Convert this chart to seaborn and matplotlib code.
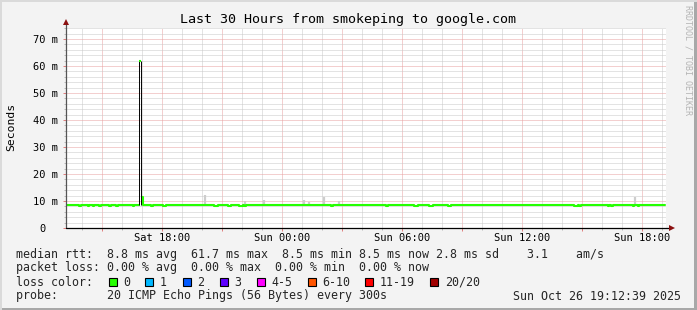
import numpy as np
import pandas as pd
import matplotlib
matplotlib.use("Agg")
import matplotlib.pyplot as plt
import matplotlib.dates as mdates
from matplotlib.patches import Rectangle
from matplotlib.ticker import MultipleLocator, FuncFormatter
import seaborn as sns

# ---------------- data ----------------
title = "Last 30 Hours from smokeping to google.com"
y_label = "Seconds"
start_time = "2025-10-25 13:12:39"
end_time = "2025-10-26 19:12:39"
first_sample_center = "2025-10-25 13:15:09"
n_samples = 360
y_ticks_ms = [0, 10, 20, 30, 40, 50, 60, 70]
y_tick_labels = ["0  ", "10 m", "20 m", "30 m", "40 m", "50 m", "60 m", "70 m"]

# median rtt (ms), one value per 5-minute step, 12 values per hour
median_ms = [
    8.6, 8.6, 8.6, 8.6, 8.6, 8.6, 8.6, 8.6, 8.2, 8.6, 8.6, 8.6,
    8.6, 8.2, 8.6, 8.6, 8.2, 8.6, 8.6, 8.6, 8.2, 8.6, 8.6, 8.6,
    8.6, 8.6, 8.2, 8.6, 8.6, 8.6, 8.2, 8.6, 8.6, 8.6, 8.6, 8.6,
    8.6, 8.6, 8.6, 8.6, 8.2, 8.6, 8.6, 8.6, 61.7, 11.6, 8.5, 8.6,
    8.6, 8.6, 8.6, 8.2, 8.6, 8.6, 8.6, 8.6, 8.6, 8.6, 8.2, 8.2,
    8.6, 8.6, 8.6, 8.6, 8.6, 8.6, 8.6, 8.6, 8.6, 8.6, 8.6, 8.6,
    8.6, 8.6, 8.6, 8.6, 8.6, 8.6, 8.6, 8.6, 8.6, 8.6, 8.6, 8.6,
    8.6, 8.6, 8.6, 8.6, 8.6, 8.2, 8.2, 8.6, 8.6, 8.6, 8.6, 8.6,
    8.6, 8.2, 8.2, 8.6, 8.6, 8.6, 8.6, 8.6, 8.2, 8.2, 8.6, 8.2,
    8.6, 8.6, 8.6, 8.6, 8.6, 8.6, 8.6, 8.6, 8.6, 8.6, 8.6, 8.6,
    8.6, 8.6, 8.6, 8.6, 8.6, 8.6, 8.6, 8.6, 8.6, 8.6, 8.6, 8.6,
    8.6, 8.6, 8.6, 8.6, 8.6, 8.6, 8.6, 8.6, 8.6, 8.6, 8.6, 8.6,
    8.6, 8.6, 8.6, 8.6, 8.6, 8.6, 8.6, 8.6, 8.6, 8.6, 8.6, 8.6,
    8.6, 8.6, 8.6, 8.2, 8.6, 8.6, 8.6, 8.6, 8.6, 8.6, 8.6, 8.6,
    8.6, 8.6, 8.6, 8.6, 8.6, 8.6, 8.6, 8.6, 8.6, 8.6, 8.6, 8.6,
    8.6, 8.6, 8.6, 8.6, 8.6, 8.6, 8.6, 8.6, 8.6, 8.6, 8.6, 8.6,
    8.2, 8.6, 8.6, 8.6, 8.6, 8.6, 8.6, 8.6, 8.6, 8.6, 8.6, 8.6,
    8.6, 8.6, 8.6, 8.6, 8.6, 8.2, 8.2, 8.6, 8.6, 8.6, 8.6, 8.6,
    8.6, 8.6, 8.2, 8.2, 8.6, 8.6, 8.6, 8.6, 8.6, 8.6, 8.6, 8.6,
    8.6, 8.2, 8.2, 8.6, 8.6, 8.6, 8.6, 8.6, 8.6, 8.6, 8.6, 8.6,
    8.6, 8.6, 8.6, 8.6, 8.6, 8.6, 8.6, 8.6, 8.6, 8.6, 8.6, 8.6,
    8.6, 8.6, 8.6, 8.6, 8.6, 8.6, 8.6, 8.6, 8.6, 8.6, 8.6, 8.6,
    8.6, 8.6, 8.6, 8.6, 8.6, 8.6, 8.6, 8.6, 8.6, 8.6, 8.6, 8.6,
    8.6, 8.6, 8.6, 8.6, 8.6, 8.6, 8.6, 8.6, 8.6, 8.6, 8.6, 8.6,
    8.6, 8.6, 8.6, 8.6, 8.6, 8.6, 8.6, 8.6, 8.6, 8.6, 8.6, 8.6,
    8.6, 8.6, 8.6, 8.6, 8.6, 8.2, 8.2, 8.6, 8.2, 8.6, 8.6, 8.6,
    8.6, 8.6, 8.6, 8.6, 8.6, 8.6, 8.6, 8.6, 8.6, 8.6, 8.6, 8.6,
    8.6, 8.2, 8.6, 8.2, 8.6, 8.6, 8.6, 8.6, 8.6, 8.6, 8.6, 8.6,
    8.6, 8.6, 8.6, 8.6, 8.2, 8.6, 8.6, 8.2, 8.6, 8.6, 8.6, 8.6,
    8.6, 8.6, 8.6, 8.6, 8.6, 8.6, 8.6, 8.6, 8.6, 8.6, 8.6, 8.6,
]

# smoke (ping spread) spikes: sample index and top value (ms)
smoke_index = [83, 107, 118, 142, 145, 154, 163, 341]
smoke_top_ms = [12.2, 10.0, 10.3, 10.4, 9.6, 11.5, 9.9, 11.5]

# legend
rtt_line = "median rtt:  8.8 ms avg  61.7 ms max  8.5 ms min 8.5 ms now 2.8 ms sd    3.1    am/s"
loss_line = "packet loss: 0.00 % avg  0.00 % max  0.00 % min  0.00 % now"
loss_head = "loss color:"
loss_labels = ["0", "1", "2", "3", "4-5", "6-10", "11-19", "20/20"]
loss_colors = ["#26ff00", "#00b8ff", "#0059ff", "#5e00ff", "#ff00ff", "#ff5500", "#ff0000", "#a10000"]
loss_square_x = [109, 145.3, 182.7, 220, 257, 307.6, 365.3, 430.2]
probe_line = "probe:       20 ICMP Echo Pings (56 Bytes) every 300s"
stamp_text = "Sun Oct 26 19:12:39 2025"
watermark = "RRDTOOL / TOBI OETIKER"

# ---------------- figure ----------------
W, H = 697, 310
sns.set_theme(style="white")
plt.rcParams["font.family"] = ["DejaVu Sans Mono", "DejaVu Sans"]
BG = "#f3f3f3"
fig = plt.figure(figsize=(W / 100, H / 100), dpi=100, facecolor=BG)

def fx(x):
    return x / W

def fy(y):
    return 1 - y / H

L, R, T, B = 66, 666, 28, 228
ax = fig.add_axes([fx(L), fy(B), (R - L) / W, (B - T) / H])
ax.set_facecolor("white")

times = pd.date_range(first_sample_center, periods=n_samples, freq="300s")
df = pd.DataFrame({"time": times, "median_ms": median_ms})
t0, t1 = pd.Timestamp(start_time), pd.Timestamp(end_time)

# smoke
st = df["time"].iloc[smoke_index].values
sb = df["median_ms"].iloc[smoke_index].values
ax.vlines(st, sb, smoke_top_ms, color="#cdcdcd", linewidth=1.6, zorder=2)

# median line: drawn in two parts around the tall spike
GREEN = "#26ff00"
k = int(np.argmax(median_ms))
half = pd.Timedelta(seconds=150)
edge = pd.Timedelta(seconds=225)
for part in (df.iloc[:k], df.iloc[k + 1:]):
    sns.lineplot(data=part, x="time", y="median_ms", ax=ax, color=GREEN,
                 linewidth=1.5, drawstyle="steps-mid", zorder=3, legend=False)
# dark edges of the spike
ax.vlines([times[k] - edge], [median_ms[k - 1]], [median_ms[k]], color="black", linewidth=0.7, zorder=4)
ax.vlines([times[k] + edge], [min(median_ms[k + 1], median_ms[k + 2])], [median_ms[k]], color="black",
          linewidth=0.7, zorder=4)
ax.hlines([median_ms[k]], [times[k] - half], [times[k] + half], color=GREEN, linewidth=1.5, zorder=5)

ax.set_xlim(t0, t1)
ax.set_ylim(0, 74.1)

# grid
ax.xaxis.set_major_locator(mdates.HourLocator(byhour=range(0, 24, 3)))
ax.xaxis.set_minor_locator(mdates.HourLocator())

def xfmt(v, pos):
    d = mdates.num2date(v)
    return d.strftime("%a %H:%M") if d.hour % 6 == 0 else ""

ax.xaxis.set_major_formatter(FuncFormatter(xfmt))
ax.set_yticks(y_ticks_ms, y_tick_labels)
ax.yaxis.set_minor_locator(MultipleLocator(2))

dot = (0, (1, 1))
ax.grid(which="minor", color="#c8c8c8", linestyle=dot, linewidth=0.72, zorder=0)
ax.grid(which="major", color="#e9a0a0", linestyle=dot, linewidth=0.72, zorder=1)
ax.set_axisbelow(True)

ax.tick_params(which="major", length=2.5, width=0.72, color="#e08080", labelsize=7.5,
               labelcolor="#000000")
ax.tick_params(which="minor", length=1.5, width=0.72, color="#bbbbbb")
ax.tick_params(axis="x", which="both", direction="out", bottom=True)
ax.tick_params(axis="y", which="both", direction="out", left=True)
ax.tick_params(axis="x", which="major", pad=1.0)
ax.tick_params(axis="y", which="major", pad=3)

ax.set_xlabel("")
ax.set_ylabel("")
for s in ["top", "right", "left", "bottom"]:
    ax.spines[s].set_visible(False)

# axes with arrows
axis_col = "#555555"
ax.plot([0, 0], [0, 1 + 5 / 200], transform=ax.transAxes, color=axis_col, lw=0.9, clip_on=False, zorder=5)
ax.plot([0, 1 + 5 / 600], [0, 0], transform=ax.transAxes, color="black", lw=0.9, clip_on=False, zorder=5)
ax.plot([0], [1 + 6 / 200], transform=ax.transAxes, marker="^", markersize=4.2, color="#8b1010",
        clip_on=False, zorder=6, markeredgewidth=0)
ax.plot([1 + 6 / 600], [0], transform=ax.transAxes, marker=">", markersize=4.2, color="#8b1010",
        clip_on=False, zorder=6, markeredgewidth=0)

# titles and labels
fig.text(fx(348), fy(19), title, ha="center", va="center", fontsize=9.6, color="black")
fig.text(fx(11), fy(127), y_label, ha="center", va="center", rotation=90, fontsize=8.2, color="black")
fig.text(fx(688), fy(5), watermark, ha="center", va="top", rotation=270, fontsize=6.0, color="#b4b4b4")

LF = 8.37
fig.text(fx(16), fy(254.5), rtt_line, ha="left", va="center", fontsize=LF)
fig.text(fx(16), fy(268), loss_line, ha="left", va="center", fontsize=LF)
fig.text(fx(16), fy(282), loss_head, ha="left", va="center", fontsize=LF)
for lab, col, x in zip(loss_labels, loss_colors, loss_square_x):
    fig.patches.append(Rectangle((fx(x), fy(286)), 8 / W, 8 / H, transform=fig.transFigure,
                                 facecolor=col, edgecolor="black", linewidth=0.8, figure=fig))
    fig.text(fx(x + 14.5), fy(282), lab, ha="left", va="center", fontsize=LF)
fig.text(fx(16), fy(296), probe_line, ha="left", va="center", fontsize=LF)
fig.text(fx(681), fy(296), stamp_text, ha="right", va="center", fontsize=LF)

# frame
fig.patches.append(Rectangle((0, 0), 1, 2 / H, transform=fig.transFigure, facecolor="#a8a8a8",
                             edgecolor="none", figure=fig))
fig.patches.append(Rectangle((1 - 3 / W, 0), 3 / W, 1, transform=fig.transFigure, facecolor="#a8a8a8",
                             edgecolor="none", figure=fig))
fig.patches.append(Rectangle((0, 1 - 2 / H), 1, 2 / H, transform=fig.transFigure, facecolor="#dadada",
                             edgecolor="none", figure=fig))
fig.patches.append(Rectangle((0, 0), 2 / W, 1, transform=fig.transFigure, facecolor="#dadada",
                             edgecolor="none", figure=fig))

fig.savefig("out.png", dpi=100, facecolor=BG)
